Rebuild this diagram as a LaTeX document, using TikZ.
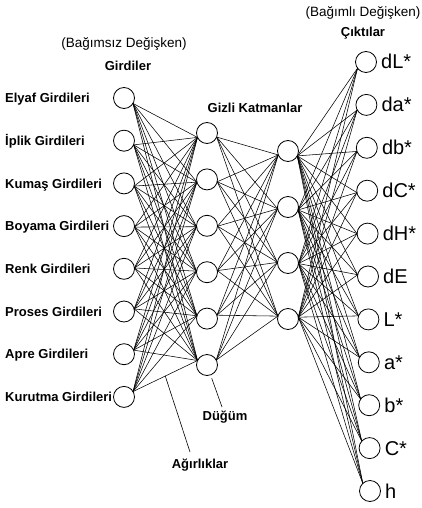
\documentclass[tikz,border=0pt]{standalone}
\usepackage{fontspec}
\setmainfont{Liberation Sans}
\usetikzlibrary{calc}

\tikzset{
  neuron/.style={circle, draw=black, line width=0.8pt, fill=white,
                 minimum size=21pt, inner sep=0pt},
  link/.style={draw=black, line width=0.55pt},
  inlabel/.style={anchor=base west, inner sep=0pt,
                  font=\fontsize{13}{15}\selectfont\bfseries},
  outlabel/.style={anchor=base west, inner sep=0pt,
                   font=\fontsize{20}{22}\selectfont},
  boldtitle/.style={inner sep=0pt, font=\fontsize{13}{15}\selectfont\bfseries},
  subtitle/.style={inner sep=0pt, font=\fontsize{13.5}{15}\selectfont},
  pointer/.style={draw=black, line width=0.6pt}
}

\begin{document}
\begin{tikzpicture}[x=1pt, y=-1pt]
\useasboundingbox (0,0) rectangle (421,508);

% ---- input layer ----
\foreach \t [count=\i] in {Elyaf Girdileri, İplik Girdileri, Kumaş Girdileri,
    Boyama Girdileri, Renk Girdileri, Proses Girdileri, Apre Girdileri,
    Kurutma Girdileri} {
  \pgfmathsetmacro\yy{98+42.7*(\i-1)}
  \node[neuron] (in\i) at (124,\yy) {};
  \node[inlabel] (inlab\i) at (5,\yy+4.7) {\t};
  \coordinate (inR\i) at ($(in\i.center)!10.5pt!(373,249)$);
}

% ---- first hidden layer ----
\foreach \j in {1,...,6} {
  \pgfmathsetmacro\yy{133+46.4*(\j-1)}
  \node[neuron] (ha\j) at (207,\yy) {};
  \coordinate (haL\j) at ($(ha\j.center)!10.5pt!(-42,247.5)$);
  \coordinate (haR\j) at ($(ha\j.center)!10.5pt!(450,235)$);
}

% ---- second hidden layer ----
\foreach \k in {1,...,4} {
  \pgfmathsetmacro\yy{151+56*(\k-1)}
  \node[neuron] (hb\k) at (288,\yy) {};
  \coordinate (hbL\k) at ($(hb\k.center)!10.5pt!(45,249)$);
  \coordinate (hbR\k) at ($(hb\k.center)!10.5pt!(525,276.5)$);
}

% ---- output layer ----
\foreach \t [count=\m] in {dL*, da*, db*, dC*, dH*, dE, L*, a*, b*, C*, h} {
  \pgfmathsetmacro\yy{62+42.9*(\m-1)}
  \pgfmathsetmacro\xx{366+0.4*(\m-1)}
  \node[neuron] (out\m) at (\xx,\yy) {};
  \node[outlabel] (outlab\m) at (\xx+15,\yy+7) {\t};
  \coordinate (outL\m) at ($(out\m.center)!10.5pt!(130,235)$);
}

% ---- weights ----
\foreach \i in {1,...,8}
  \foreach \j in {1,...,6}
    \draw[link] (inR\i) -- (haL\j);
\foreach \j in {1,...,6}
  \foreach \k in {1,...,4}
    \draw[link] (haR\j) -- (hbL\k);
\foreach \k in {1,...,4}
  \foreach \m in {1,...,11}
    \draw[link] (hbR\k) -- (outL\m);

% ---- titles ----
\node[subtitle] (indep) at (124,44) {(Bağımsız Değişken)};
\node[boldtitle] (girdiler) at (128,66) {Girdiler};
\node[subtitle] (dep) at (363,13) {(Bağımlı Değişken)};
\node[boldtitle] (ciktilar) at (363,33) {Çıktılar};
\node[boldtitle] (gizli) at (255,108) {Gizli Katmanlar};
\node[boldtitle] (dugum) at (225,417) {Düğüm};
\node[boldtitle] (agirlik) at (200,465) {Ağırlıklar};

% ---- pointers ----
\coordinate (dtip) at (222,407);
\coordinate (dstart) at ($(ha6.center)!14pt!(dtip)$);
\draw[pointer] (dstart) -- (dtip);
\coordinate (wbase) at ($(inR8)!0.5!(haL6)$);
\coordinate (wtip) at (190,452);
\draw[pointer] (wbase) -- (wtip);
\end{tikzpicture}
\end{document}
